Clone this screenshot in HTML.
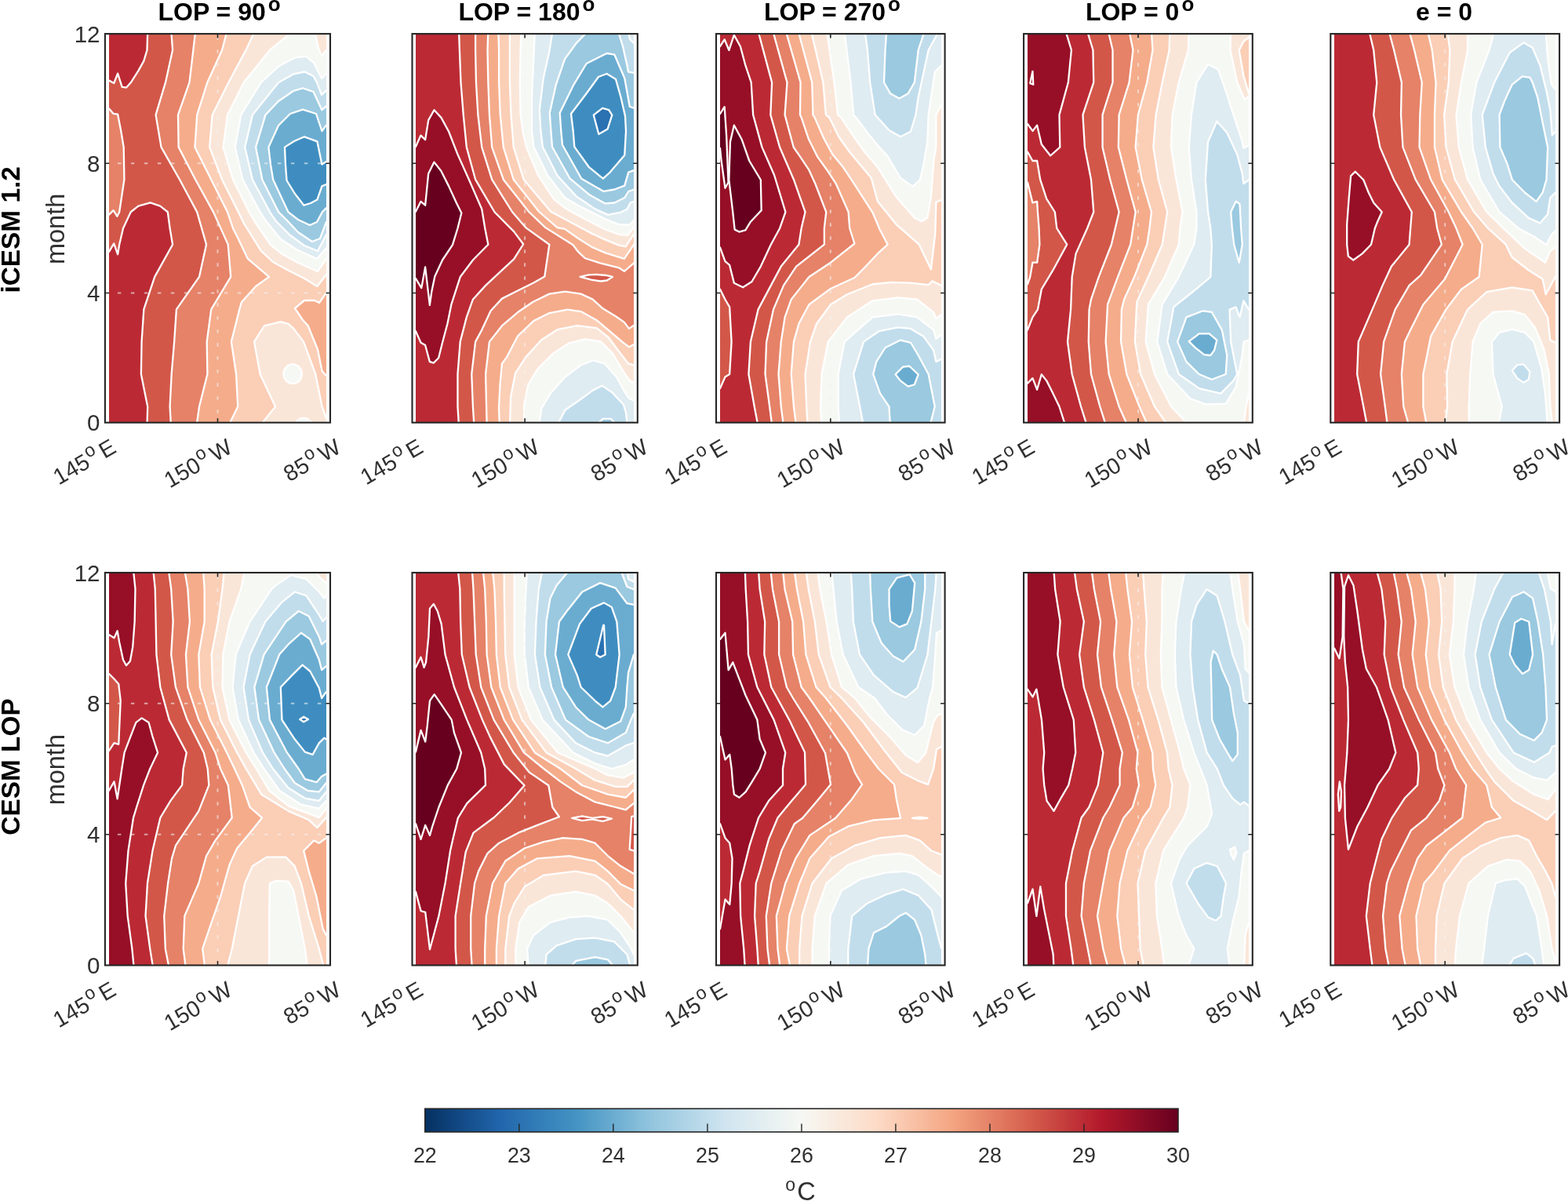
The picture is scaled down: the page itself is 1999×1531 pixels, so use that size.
<!DOCTYPE html>
<html lang="en"><head><meta charset="utf-8"><title>Equatorial Pacific SST seasonal cycle</title>
<style>
html,body{margin:0;padding:0;background:#fff}
body{width:1999px;height:1531px;overflow:hidden;position:relative}
svg{display:block}
text{font-family:"Liberation Sans",Arial,Helvetica,sans-serif}
.tk{font-size:29.5px;fill:#303030}
.sup{font-size:24px}
.xt{font-size:28.8px}
.cbt{font-size:26.8px}
.cbl{font-size:29px}
.cbl .sup{font-size:23px}
.xt .sup{font-size:23.5px}
.ttl{font-size:32px;font-weight:bold;fill:#000}
.rl{font-size:33.4px;font-weight:bold;fill:#000}
.ttl .sup{font-size:26px}
.yl{font-size:32.5px;fill:#303030}
.cl{stroke:#fff;stroke-width:2.3;stroke-linejoin:round;vector-effect:non-scaling-stroke}
</style></head><body>
<svg xmlns="http://www.w3.org/2000/svg" width="1999" height="1531" viewBox="0 0 1999 1531">
<defs>
<linearGradient id="cb" x1="0" x2="1" y1="0" y2="0"><stop offset="0%" stop-color="#053061"/><stop offset="10%" stop-color="#2166ac"/><stop offset="20%" stop-color="#4393c3"/><stop offset="30%" stop-color="#92c5de"/><stop offset="40%" stop-color="#d1e5f0"/><stop offset="50%" stop-color="#f6f8f3"/><stop offset="60%" stop-color="#fddbc7"/><stop offset="70%" stop-color="#f4a582"/><stop offset="80%" stop-color="#d6604d"/><stop offset="90%" stop-color="#b2182b"/><stop offset="100%" stop-color="#67001f"/></linearGradient>
</defs>
<rect width="1999" height="1531" fill="#fff"/>
<svg x="139" y="43" width="277" height="496" viewBox="0.036 -0.024 99.964 120.097" preserveAspectRatio="none" overflow="hidden"><rect x="-1" y="-1" width="102" height="122" fill="#d25749"/><path d="M28.64 -0.70L29.29 4.98L26.04 14.97L21.54 25.01L24.04 35L32.54 45L40.54 55.03L44.79 65.02L41.54 75.02L31.04 85.05L30.04 95.05L28.79 105.05L28.04 115.08L28.54 120.92L106 126L106 -6Z" fill="#e58268" class="cl"/><path d="M39.79 -0.70L38.79 4.98L37.04 14.97L31.79 25.01L32.04 35L39.79 45L48.04 55.03L54.79 65.02L56.04 75.02L47.04 85.05L45.04 95.05L45.29 105.05L41.54 115.08L40.29 120.92L106 126L106 -6Z" fill="#f5ac8b" class="cl"/><path d="M54.29 -0.70L52.04 4.98L45.29 14.97L40.54 25.01L39.54 35L47.04 45L54.54 55.03L57.04 60.02L59.24 62.94L63.89 69.45L73.65 75.02L67.55 77.94L61.04 82.77L60.04 85.05L56.29 95.05L58.54 105.05L59.29 115.08L55.04 120.92L106 126L106 -6Z" fill="#fbceb6" class="cl"/><path d="M101.44 79.88L100 79.88L96.75 83.03L94.59 82.30L89.90 82.30L85.56 84.72L89.17 88.35L91.56 90.05L96.03 97.43L98.05 104.09L100 105.54L101.44 105.54Z" fill="#f5ac8b" class="cl"/><path d="M67.05 -0.70L63.04 4.98L55.04 14.97L47.54 25.01L46.29 35L52.04 45L59.54 55.03L62.11 58.57L70.05 67.05L75.46 70.44L82.68 73.10L89.90 75.52L95.81 77.94L100 74.31L101.44 73.83L106 -6Z" fill="#fae6d8" class="cl"/><path d="M69.55 120.92L76.55 115.08L69.55 105.05L66.80 95.05L71.55 90.05L75.05 89.55L79.05 88.88L82.55 89.55L85.05 91.05L89.55 95.05L95.05 105.05L98.05 115.08L100 118.57L101.55 118.90L106 126Z" fill="#fae6d8" class="cl"/><path d="M84.55 -0.70L74.05 4.98L62.04 14.97L54.54 25.01L52.54 35L57.04 45L64.55 55.03L67.16 58.09L74.38 65.11L79.79 68.01L87.01 70.68L95.99 73.34L100 69.47L101.44 69.23L101.55 5.01L100 5.01L97.95 6.85L96.30 4.34L94.70 -0.70Z" fill="#f6f8f3" class="cl"/><path d="M88.81 104.99L88.38 106.30L87.22 107.36L85.49 107.94L83.62 107.94L81.88 107.36L80.73 106.30L80.30 104.99L80.73 103.68L81.88 102.62L83.62 102.03L85.49 102.03L87.22 102.62L88.38 103.68Z" fill="#f6f8f3" class="cl"/><path d="M93.14 120.31L92.78 121.04L91.77 121.65L90.33 121.96L88.74 121.96L87.30 121.65L86.29 121.04L85.93 120.31L86.29 119.59L87.30 118.98L88.74 118.67L90.33 118.67L91.77 118.98L92.78 119.59Z" fill="#f6f8f3" class="cl"/><path d="M101.55 12.32L100 12.32L97.85 13.77L94.25 8.93L90.65 6.99L87.05 7.19L85.05 7.52L78.05 10.04L70.05 14.97L60.79 25.01L58.04 35L61.54 45L69.55 55.03L72.57 58.09L79.07 63.41L86.29 66.56L95.67 69.47L100 66.08L101.44 65.84Z" fill="#dfecf1" class="cl"/><path d="M101.55 17.42L100 17.42L97.85 18.87L95.65 14.97L94.05 13.06L90.05 11.72L85.05 12.39L78.05 14.97L66.05 25.01L62.54 35L66.05 45L74.05 55.03L76.90 57.85L83.40 62.20L89.90 65.35L96.03 67.05L100 61.96L101.44 61.72Z" fill="#c1ddec" class="cl"/><path d="M101.44 22.25L100 22.35L97.98 23.51L94.05 17.89L89.17 16.76L84.84 17.65L77.99 20.80L72.03 25.01L67.55 35L70.55 45L78.05 55.03L81.60 57.36L87.01 61.23L93.50 64.14L97.11 63.17L100 58.09L101.44 57.85Z" fill="#9ac9e0" class="cl"/><path d="M101.44 28.06L100 28.23L97.98 30L95.31 24.67L89.17 23.37L83.40 24.67L77.99 28.31L73.44 34.99L74.38 40.41L75.53 45.01L79.07 50.10L82.53 55.04L87.01 57.36L92.42 59.06L95.67 58.09L98.20 54.94L100 53.73L101.44 53.49Z" fill="#6aacd0" class="cl"/><path d="M101.44 39.44L100 39.44L97.98 40.29L95.81 33.22L89.90 31.77L85.20 33.15L80.87 34.99L81.23 40.41L81.78 45.25L85.56 49.37L89.68 52.93L92.78 52.28L95.81 51.19L97.98 47.05L100 46.46L101.44 46.46Z" fill="#3f8dc0" class="cl"/><path d="M17.79 -0.70L17.54 5.01L16.04 8.36L13.54 11.38L10.04 15.07L8.04 16.58L6.04 16.42L4.04 12.22L2.29 15.24L0.04 14.40L-1.46 14.40L-6 -6Z" fill="#bb2a34" class="cl"/><path d="M-1.46 67.24L0.04 67.24L2.29 64.72L4.04 68.08L4.79 65.06L6.54 60.02L10.04 55L13.54 53.15L19.04 52.14L23.54 53.15L27.04 55L28.04 60.03L29.29 65.06L21.04 75.02L16.04 85.05L15.04 95.05L14.79 105.05L17.79 115.08L17.54 120.92L-6 126Z" fill="#bb2a34" class="cl"/><path d="M-1.46 23.13L0.04 23.13L2.04 24.64L4.04 24.80L5.54 30L6.79 35.03L7.04 45L4.79 55L3.79 56.34L2.04 54.49L0.04 55.83L-1.46 55.83Z" fill="#e58268" class="cl"/></svg>
<g transform="translate(133.9,43.1)">
<path d="M5.0 330.4H282.1" stroke-dashoffset="6" stroke="#f4f4f4" stroke-opacity=".6" stroke-width="2" stroke-dasharray="4.5 12.5" fill="none"/>
<path d="M5.0 165.2H282.1" stroke-dashoffset="6" stroke="#f4f4f4" stroke-opacity=".6" stroke-width="2" stroke-dasharray="4.5 12.5" fill="none"/>
<path d="M143.6 0V495.6" stroke-dashoffset="13.8" stroke="#f4f4f4" stroke-opacity=".6" stroke-width="2" stroke-dasharray="4.5 12.5" fill="none"/>
<rect x="0" y="0" width="287.1" height="495.6" fill="none" stroke="#262626" stroke-width="2.1"/>
<path d="M143.6 0v5.5M143.6 495.6v-5.5M0 330.4h5.5M287.1 330.4h-5.5M0 165.2h5.5M287.1 165.2h-5.5" stroke="#262626" stroke-width="1.6" fill="none"/>
</g>
<text class="tk xt" text-anchor="end" transform="translate(149.9,575.7) rotate(-30)">145<tspan class="sup" dx="1.5" dy="-11.5">o</tspan><tspan dx="4.5" dy="11.5">E</tspan></text>
<text class="tk xt" text-anchor="end" transform="translate(298.1,575.7) rotate(-30)">150<tspan class="sup" dx="1.5" dy="-11.5">o</tspan><tspan dx="4.5" dy="11.5">W</tspan></text>
<text class="tk xt" text-anchor="end" transform="translate(436.6,575.7) rotate(-30)">85<tspan class="sup" dx="1.5" dy="-11.5">o</tspan><tspan dx="4.5" dy="11.5">W</tspan></text>
<svg x="530" y="43" width="278" height="496" viewBox="-0.180 -0.024 100.252 120.097" preserveAspectRatio="none" overflow="hidden"><rect x="-1" y="-1" width="102" height="122" fill="#bb2a34"/><path d="M19.68 -0.81L19.97 5L20.56 15L21.73 25L23.19 35L27.27 45L36.04 55L44.93 61.03L49.28 64.93L44.93 69.55L39.49 72.96L31.95 77.67L26.11 81.99L23.19 87.48L20.27 95.05L19.10 105.05L19.10 115.05L19.68 121.21L106 126L106 -6Z" fill="#d25749" class="cl"/><path d="M27.27 -0.81L27.27 5L27.57 15L28.44 25L30.20 35L34.87 45L44.22 55L50.37 59.81L61.25 65.05L59.08 74.91L54 76.86L46.74 79.29L39.49 81.73L34.28 85.52L30.20 91.40L27.27 95.05L25.52 105.05L26.11 115.05L26.69 121.21L106 126L106 -6Z" fill="#e58268" class="cl"/><path d="M75.40 75.03L79.39 74.42L83.02 74.30L87.37 74.55L90.27 75.03L87.73 76.13L84.83 76.37L80.48 75.89Z" fill="#d25749" class="cl"/><path d="M33.12 -0.81L32.82 5L33.12 15L33.70 25L34.87 35L40.13 45L51.82 54.94L59.44 59.81L72.13 65.17L74.56 67.34L77.67 69.29L84.92 70.82L93.21 72.21L95.70 73.32L100.07 70.82L101.92 69.84L106 -6Z" fill="#f5ac8b" class="cl"/><path d="M37.79 -0.81L38.08 5L38.08 15L38.67 25L40.13 35L44.80 45L56.54 54.94L64.88 59.81L68.34 60.24L74.56 63.16L80.77 65.81L86.99 67.62L95.70 69.42L100.07 65.11L101.92 63.44L106 -6Z" fill="#fbceb6" class="cl"/><path d="M43.05 -0.81L43.05 5L43.05 15L43.63 25L44.80 35L49.47 45L61.98 54.94L68.34 57.18L74.56 59.40L80.77 61.63L86.99 63.58L93.21 65.25L96.32 65.67L100.07 61.91L101.92 60.24L106 -6Z" fill="#fae6d8" class="cl"/><path d="M48.30 -0.81L48.01 5L47.72 15L48.01 25L49.22 30.97L51.03 35.57L56.15 43.73L63.43 51.16L68.34 53.70L74.56 56.06L80.77 58.29L86.99 60.38L93.21 61.91L97.36 62.19L100.07 59.68L101.92 58.15L106 -6Z" fill="#f6f8f3" class="cl"/><path d="M54.63 -1.23L53.19 19.59L53.19 30L54.09 34.89L60.51 43.73L68.41 50.58L74.56 53L80.77 55.09L86.99 57.18L93.21 58.85L97.98 58.99L100.07 57.60L101.92 56.48L106 -6Z" fill="#dfecf1" class="cl"/><path d="M62.86 -1.23L61.13 5.79L58.49 13.70L56.73 23.46L57.30 30L58.20 34.89L64.91 43.73L73.67 50.19L82.40 54.12L88.28 55.88L94.12 55.08L97.04 54.12L98.49 52.15L100.07 51.79L101.88 51.55L101.88 2.88L100.07 2.88L98.27 1.67L97.33 -1.23Z" fill="#c1ddec" class="cl"/><path d="M79.52 -1.23L73.67 2.88L68.34 7.82L64.33 15.67L61.41 24.43L61.99 30L62.57 34.89L70.75 44.70L79.52 49.61L86.80 52.35L91.20 52.15L95.85 50.58L97.62 48.64L100.07 48.04L101.88 47.92L101.88 12.08L100.07 12.08L97.55 11.74L97.01 9.78L95.02 3.85L92.64 -1.23Z" fill="#9ac9e0" class="cl"/><path d="M101.88 22.91L100.07 22.91L98.20 22.49L95.85 13.70L91.20 6.44L87.67 6.03L78.33 9.18L72.48 15.67L66.07 24.43L66.64 30L67.26 34.31L76.02 44.70L86.22 48.64L91.20 48.04L95.85 46.85L97.62 42.74L100.07 42.15L101.88 42.11Z" fill="#6aacd0" class="cl"/><path d="M87.67 12.32L83.84 13.29L78.07 18.62L71.22 24.67L72.20 30L72.77 34.89L79.52 41.19L85.94 44.70L89.15 42.74L95.85 37.46L96.47 30L96.11 25.40L94.12 19.59L91.78 14.02Z" fill="#3f8dc0" class="cl"/><path d="M81.61 25.08L85.68 22.93L88.60 23.51L90.08 25.08L88.03 29.39L83.95 30.97Z" fill="#2a71b2" class="cl"/><path d="M32.53 121.21L31.95 105.05L33.70 95.05L39.49 90.09L46.74 85.95L53.63 82.78L61.25 80.27L68.51 79.54L75.76 80.27L81.20 81.97L85.56 84.65L92.09 87.33L95.71 89.04L97.89 90.99L100.07 90.01L102.24 89.04L106 126Z" fill="#f5ac8b" class="cl"/><path d="M38.41 121.53L38.05 115.47L38.59 108.21L39.49 101.78L41.66 99.83L46.74 93.26L54 88.63L61.25 86.19L69.60 85.10L75.76 85.71L83.02 88.39L90.27 92.53L94.62 94.96L97.89 96.67L100.07 95.94L102.24 95.21L106 126Z" fill="#fbceb6" class="cl"/><path d="M43.12 120.78L43.48 112.01L45.65 104.70L50.37 99.83L57.62 94.48L64.88 91.31L73.95 90.09L83.02 90.82L88.46 93.74L93.90 98.62L97.53 101.78L100.07 102.27L102.24 102.51L106 126Z" fill="#fae6d8" class="cl"/><path d="M49.64 120.78L49.64 114.45L51.46 108.36L55.81 103.49L63.07 98.62L70.32 95.45L77.58 94.23L84.83 94.96L90.27 98.62L95.71 104.70L98.25 107.14L100.07 107.63L102.24 107.87L106 126Z" fill="#f6f8f3" class="cl"/><path d="M56.54 120.78L57.62 115.66L61.98 110.79L68.51 105.92L75.76 102.27L81.20 100.81L86.64 101.78L92.09 105.92L96.08 110.79L97.89 112.50L100.07 113.23L102.24 113.47L106 126Z" fill="#dfecf1" class="cl"/><path d="M64.88 120.78L68.51 116.15L75.76 112.74L81.20 110.06L85.56 108.60L90.27 110.79L95.35 114.45L96.44 116.88L97.16 120.78Z" fill="#c1ddec" class="cl"/><path d="M82.65 120.78L85.92 118.83L89.55 118.83L92.09 120.78Z" fill="#9ac9e0" class="cl"/><path d="M-1.93 34.88L-0.18 34.88L2.16 31.35L4.20 32.73L5.66 26.65L8.29 23.51L11.50 25.86L15.01 30.18L19.10 37.24L24.35 45.08L30.20 54.10L31.66 60.02L33.12 65.04L26.11 69.83L20.27 75.05L16.18 83.56L14.42 89.44L12.09 95.32L10.33 100.03L8 101.60L6.25 101.21L4.20 96.11L2.16 95.32L-0.18 91.79L-1.93 91.79Z" fill="#960f26" class="cl"/><path d="M-1.93 54.89L-0.18 54.89L2.16 51.75L4.20 52.93L5.66 43.12L8.29 39.59L11.50 42.34L15.01 47.04L18.51 52.14L20.85 55.28L19.10 60.02L16.76 65.12L12.09 69.83L8.58 74.93L7.12 79.64L6.25 83.75L4.20 71.99L2.45 78.46L-0.18 75.52L-1.93 75.52Z" fill="#67001f" class="cl"/></svg>
<g transform="translate(525.5,43.1)">
<path d="M143.6 0V495.6" stroke-dashoffset="13.8" stroke="#f4f4f4" stroke-opacity=".6" stroke-width="2" stroke-dasharray="4.5 12.5" fill="none"/>
<rect x="0" y="0" width="287.3" height="495.6" fill="none" stroke="#262626" stroke-width="2.1"/>
<path d="M143.6 0v5.5M143.6 495.6v-5.5M0 330.4h5.5M287.3 330.4h-5.5M0 165.2h5.5M287.3 165.2h-5.5" stroke="#262626" stroke-width="1.6" fill="none"/>
</g>
<text class="tk xt" text-anchor="end" transform="translate(541.5,575.7) rotate(-30)">145<tspan class="sup" dx="1.5" dy="-11.5">o</tspan><tspan dx="4.5" dy="11.5">E</tspan></text>
<text class="tk xt" text-anchor="end" transform="translate(689.8,575.7) rotate(-30)">150<tspan class="sup" dx="1.5" dy="-11.5">o</tspan><tspan dx="4.5" dy="11.5">W</tspan></text>
<text class="tk xt" text-anchor="end" transform="translate(828.4,575.7) rotate(-30)">85<tspan class="sup" dx="1.5" dy="-11.5">o</tspan><tspan dx="4.5" dy="11.5">W</tspan></text>
<svg x="918" y="43" width="282" height="496" viewBox="0.000 -0.024 100.142 120.097" preserveAspectRatio="none" overflow="hidden"><rect x="-1" y="-1" width="102" height="122" fill="#bb2a34"/><path d="M-1.73 78.85L0 78.85L2.30 81.99L4.31 84.34L5.18 95.05L4.31 105.05L2.30 105.91L0 109.44L-1.73 109.44Z" fill="#d25749" class="cl"/><path d="M17.21 -0.88L23.47 15.01L22.85 25L27.02 35.02L33.36 45L38.54 55L36.81 60.02L35.66 65.04L27.61 71.79L23.01 77.67L17.26 85.05L13.81 95.05L12.94 105.05L15.53 115.05L17.26 121.21L106 126L106 -6Z" fill="#d25749" class="cl"/><path d="M23.89 -0.88L30.36 15.01L29.32 25L33.29 35.02L36.22 37.88L40.13 41.87L43.06 46.23L48.03 55L47.17 60.02L47.17 65.04L34.51 71.79L28.76 77.67L24.16 85.05L21 95.05L20.42 105.05L22.43 115.05L23.58 121.21L106 126L106 -6Z" fill="#e58268" class="cl"/><path d="M29.74 -0.88L36.42 15.01L36.21 25L36.81 25.88L40.13 32.55L44.04 37.88L48.92 42.54L52.44 46.23L58.10 55L58.67 60.02L60.87 64.75L50.05 70.61L40.27 75.05L32.21 81.99L29.34 87.48L27.61 95.05L26.46 105.05L27.61 115.05L28.76 121.21L106 126L106 -6Z" fill="#f5ac8b" class="cl"/><path d="M35.37 -0.88L41.64 15.01L42.05 25L42.87 25.88L46.97 32.28L50.88 37.21L55.76 41.21L60.65 46.23L69.21 55.35L72.14 60.19L75.89 65.03L71.30 67.88L65.04 72.43L60.86 75.28L50.05 78.65L40.27 83.56L35.66 89.44L33.36 95.05L32.21 105.05L33.36 115.05L34.51 121.21L106 126L106 -6Z" fill="#fbceb6" class="cl"/><path d="M41.22 -0.88L46.65 15.01L47.90 25L49.51 25.88L53.81 31.88L58.69 36.54L63.58 40.54L68.46 44.54L71.30 51.65L79.65 58.77L90.09 65.03L95.52 72.72L97.40 61.62L97.81 51.94L99.98 51.37L101.78 51.08L106 -6Z" fill="#fae6d8" class="cl"/><path d="M48.32 -0.88L51.66 15.01L53.33 25L54.79 25.88L60.65 31.88L65.53 36.54L71.40 41.21L79.65 50.23L88 56.78L91.34 57.91L93.85 56.78L95.52 50.23L96.77 38.84L97.79 35L97.79 25L100.15 21.94L102.39 21.55L106 -6Z" fill="#f6f8f3" class="cl"/><path d="M56.25 -0.88L59.17 15.01L60.42 25L61.62 25.88L67.49 31.21L72.37 35.21L75.48 37.42L81.74 44.53L87.17 47.10L90.51 45.10L92.18 40.26L93.85 33.15L94.34 25L97.21 11.74L100.15 9.78L102.39 9.59L106 -6Z" fill="#dfecf1" class="cl"/><path d="M65.58 -0.81L66.73 5L67.88 15L70.18 25L76.51 29.78L81.68 31.75L86.28 30.18L88.59 25L89.74 19.59L94.34 5L97.79 0.76L98.94 -0.81Z" fill="#c1ddec" class="cl"/><path d="M75.36 -0.81L74.78 5L74.21 15L77.08 18.41L81.11 19.98L85.13 18.41L88.01 15L89.74 5L92.61 -0.81Z" fill="#9ac9e0" class="cl"/><path d="M39.69 121.21L39.12 115.05L38.54 105.05L40.84 95.05L43.72 89.44L50.05 83.56L57.52 80.42L69.03 77.28L77.66 76.69L86.28 76.89L94.34 77.48L96.06 76.30L100.15 77.67L102.97 77.67L106 126Z" fill="#fae6d8" class="cl"/><path d="M46.02 121.21L45.44 115.05L46.02 105.05L48.89 95.05L57.52 87.48L69.03 82.38L80.53 81.40L89.16 81.99L96.64 85.91L97.79 87.87L100.15 86.69L102.97 86.69L106 126Z" fill="#f6f8f3" class="cl"/><path d="M54.07 121.21L53.50 115.05L53.50 105.05L56.37 95.05L69.03 87.48L80.53 86.50L89.16 87.48L96.64 91.40L97.79 94.15L100.15 92.97L102.97 92.97L106 126Z" fill="#dfecf1" class="cl"/><path d="M65 121.21L63.28 115.05L60.40 105.05L65 95.05L71.90 91.79L80.53 90.62L86.28 91.01L92.04 93.36L96.64 97.68L97.79 101.21L100.15 100.42L102.97 100.42L106 126Z" fill="#c1ddec" class="cl"/><path d="M77.08 121.21L76.51 115.05L72.48 111.01L69.32 105.05L70.75 101.21L74.78 96.89L81.68 94.54L86.28 95.32L89.74 99.25L94.34 105.05L97.21 115.05L94.91 121.21Z" fill="#9ac9e0" class="cl"/><path d="M79.38 105.13L82.83 102.78L85.71 102.58L89.74 105.13L88.01 108.27L85.13 108.86L81.68 107.09Z" fill="#6aacd0" class="cl"/><path d="M-1.73 3.90L0 3.90L2.01 1.74L4.03 5.07L6.33 0.37L9.20 3.90L11.50 9.78L14.09 15L14.96 25L18.98 35L24.50 43.55L29.62 55L27.04 60.02L23.01 65.04L18.41 71.79L14.38 76.50L10.35 78.26L6.33 76.89L4.31 71.40L2.30 70.22L0 65.91L-1.73 65.91Z" fill="#960f26" class="cl"/><path d="M6.33 28.22L9.78 32.53L13.23 39.20L18.41 45.08L18.70 54.49L13.81 58.02L11.50 60.61L8.63 61.12L6.62 60.42L5.75 54.89L4.03 45.08L4.60 33.31Z" fill="#67001f" class="cl"/><path d="M-1.73 24.69L0 24.69L2.01 22.53L2.88 31.35L3.74 45.87L2.30 47.63L0.58 39.20L0 35.28L-1.73 35.28Z" fill="#67001f" class="cl"/></svg>
<g transform="translate(913.0,43.1)">
<path d="M145.8 0V495.6" stroke-dashoffset="13.8" stroke="#f4f4f4" stroke-opacity=".6" stroke-width="2" stroke-dasharray="4.5 12.5" fill="none"/>
<rect x="0" y="0" width="291.6" height="495.6" fill="none" stroke="#262626" stroke-width="2.1"/>
<path d="M145.8 0v5.5M145.8 495.6v-5.5M0 330.4h5.5M291.6 330.4h-5.5M0 165.2h5.5M291.6 165.2h-5.5" stroke="#262626" stroke-width="1.6" fill="none"/>
</g>
<text class="tk xt" text-anchor="end" transform="translate(929.0,575.7) rotate(-30)">145<tspan class="sup" dx="1.5" dy="-11.5">o</tspan><tspan dx="4.5" dy="11.5">E</tspan></text>
<text class="tk xt" text-anchor="end" transform="translate(1079.4,575.7) rotate(-30)">150<tspan class="sup" dx="1.5" dy="-11.5">o</tspan><tspan dx="4.5" dy="11.5">W</tspan></text>
<text class="tk xt" text-anchor="end" transform="translate(1220.2,575.7) rotate(-30)">85<tspan class="sup" dx="1.5" dy="-11.5">o</tspan><tspan dx="4.5" dy="11.5">W</tspan></text>
<svg x="1310" y="43" width="282" height="496" viewBox="-0.035 -0.024 100.106 120.097" preserveAspectRatio="none" overflow="hidden"><rect x="-1" y="-1" width="102" height="122" fill="#bb2a34"/><path d="M-1.76 36.45L-0.04 36.45L2.26 39.20L4.28 39.20L5.71 45L8.59 50.96L12.33 55L13.19 60.02L17.79 65.04L11.47 72.97L6.29 78.85L4.56 85.13L2.26 87.48L-0.04 91.40L-1.76 91.40Z" fill="#d25749" class="cl"/><path d="M-1.76 45.87L-0.04 45.87L2.26 52.14L4.28 51.75L4.56 55L5.14 60.02L5.43 65.04L4.28 70.61L2.26 70.61L1.11 75.05L-0.04 77.28L-1.76 77.28Z" fill="#e58268" class="cl"/><path d="M26.99 -0.81L29.58 5L29.87 15L24.98 25L25.84 35L28.72 45L29.87 55L26.99 60.02L21.82 67.87L20.09 75.05L19.52 85.05L18.08 95.05L20.09 105.05L24.12 115.05L26.99 121.21L106 126L106 -6Z" fill="#d25749" class="cl"/><path d="M36.48 -0.81L38.49 5L38.49 15L33.89 25L33.89 35L37.34 45L41.37 55L39.64 60.02L37.92 65.04L32.17 75.05L28.72 81.99L27.85 85.05L27.57 95.05L28.72 105.05L32.74 115.05L35.62 121.21L106 126L106 -6Z" fill="#e58268" class="cl"/><path d="M45.97 -0.81L47.69 5L45.97 15L41.37 25L41.08 35L44.82 45L48.84 55L47.69 60.02L46.54 65.04L40.79 75.05L36.19 83.56L35.33 95.05L36.77 105.05L41.37 115.05L45.39 121.21L106 126L106 -6Z" fill="#f5ac8b" class="cl"/><path d="M56.03 -0.81L56.60 5L54.02 15L49.99 25L48.84 35L51.72 45L56.03 55L55.17 60.02L54.02 65.04L48.27 75.05L43.67 81.99L42.52 85.05L42.23 95.05L44.82 105.05L50.57 115.05L54.59 121.21L106 126L106 -6Z" fill="#fbceb6" class="cl"/><path d="M64.37 -0.81L64.08 5L60.92 15L58.04 25L56.89 35L59.19 45L63.22 55L62.07 60.02L60.92 65.04L54.59 75.05L49.42 82.77L48.55 95.05L51.14 105.05L57.47 115.05L63.79 121.21L106 126L106 -6Z" fill="#fae6d8" class="cl"/><path d="M72.99 -0.81L72.71 5L68.39 15L65.52 25L64.94 35L67.24 45L70.12 55L68.97 60.02L68.39 65.04L62.07 75.05L54.59 83.56L53.44 95.05L57.47 105.05L64.94 115.05L73.57 121.21L106 126L106 -6Z" fill="#f6f8f3" class="cl"/><path d="M91.97 -0.81L91.68 4.68L94.84 15L98.29 20.37L100.08 19.19L102.89 18.80L106 -6Z" fill="#fae6d8" class="cl"/><path d="M102.89 1.15L100.08 1.15L97.72 2.33L95.71 5.07L97.72 12.92L100.08 18.41L102.89 18.41Z" fill="#fbceb6" class="cl"/><path d="M97.72 121.21L98.87 115.05L100.08 111.01L102.89 110.62L106 126Z" fill="#fae6d8" class="cl"/><path d="M81.62 9.39L76.44 15L74.14 25L72.99 35L74.14 45L76.44 55L76.44 60.02L75.29 65.04L68.39 75.05L60.92 83.56L58.62 95.05L63.22 105.05L73.57 112.58L80.47 114.35L89.67 114.15L94.27 109.05L97.14 99.25L97.72 95.05L100.08 94.54L102.89 94.54L102.89 34.49L100.08 34.49L97.72 35.28L97.14 33.31L93.12 25L89.67 17.63L86.22 10.96Z" fill="#dfecf1" class="cl"/><path d="M85.64 27.04L81.62 33.31L80.47 45L81.62 55L82.77 60.02L83.34 65.04L82.77 75.05L74.72 79.64L66.09 84.34L63.22 95.05L68.39 105.05L77.59 109.44L87.37 111.01L93.12 107.09L94.84 105.05L91.97 95.05L91.39 85.13L94.27 84.34L95.99 87.48L97.72 82.38L100.08 85.13L102.89 85.13L102.89 45.08L100.08 45.08L97.72 46.26L97.14 43.12L94.84 37.24L90.24 30.57Z" fill="#c1ddec" class="cl"/><path d="M79.32 85.52L71.84 87.48L67.82 95.05L71.84 101.21L77.59 105.05L83.34 106.70L89.67 105.05L90.24 99.25L87.94 91.40L83.34 85.91Z" fill="#9ac9e0" class="cl"/><path d="M94.27 51.75L91.97 55L92.54 60.02L93.41 65.04L95.71 70.61L97.14 65.04L96.57 60.02L95.99 52.53Z" fill="#9ac9e0" class="cl"/><path d="M72.99 94.93L77.59 92.58L82.19 92.58L85.64 94.54L84.49 97.68L82.77 99.25L79.89 99.05L75.87 96.89Z" fill="#6aacd0" class="cl"/><path d="M17.22 -0.81L19.80 5L18.37 15L14.34 25L14.63 35L10.32 37.63L6.29 34.10L4.28 28.22L2.26 29.98L-0.04 27.82L-1.76 27.82L-6 -6Z" fill="#960f26" class="cl"/><path d="M-1.76 107.87L-0.04 107.87L2.26 106.31L4.28 109.84L6.29 105.13L8.59 107.09L11.47 111.01L14.34 115.05L17.22 121.21L-6 126Z" fill="#960f26" class="cl"/><path d="M2.26 11.55L1.11 15.27L2.55 15.66Z" fill="#960f26" class="cl"/></svg>
<g transform="translate(1305.1,43.1)">
<path d="M145.9 0V495.6" stroke-dashoffset="13.8" stroke="#f4f4f4" stroke-opacity=".6" stroke-width="2" stroke-dasharray="4.5 12.5" fill="none"/>
<rect x="0" y="0" width="291.7" height="495.6" fill="none" stroke="#262626" stroke-width="2.1"/>
<path d="M145.9 0v5.5M145.9 495.6v-5.5M0 330.4h5.5M291.7 330.4h-5.5M0 165.2h5.5M291.7 165.2h-5.5" stroke="#262626" stroke-width="1.6" fill="none"/>
</g>
<text class="tk xt" text-anchor="end" transform="translate(1321.1,575.7) rotate(-30)">145<tspan class="sup" dx="1.5" dy="-11.5">o</tspan><tspan dx="4.5" dy="11.5">E</tspan></text>
<text class="tk xt" text-anchor="end" transform="translate(1471.5,575.7) rotate(-30)">150<tspan class="sup" dx="1.5" dy="-11.5">o</tspan><tspan dx="4.5" dy="11.5">W</tspan></text>
<text class="tk xt" text-anchor="end" transform="translate(1612.4,575.7) rotate(-30)">85<tspan class="sup" dx="1.5" dy="-11.5">o</tspan><tspan dx="4.5" dy="11.5">W</tspan></text>
<svg x="1701" y="43" width="282" height="496" viewBox="-0.106 -0.024 100.071 120.097" preserveAspectRatio="none" overflow="hidden"><rect x="-1" y="-1" width="102" height="122" fill="#bb2a34"/><path d="M15.70 -0.81L17.71 5L19.15 15L17.71 25L20.59 35L26.91 45L34.96 55L34.38 60.02L33.81 65.04L25.76 71.79L21.74 77.67L17.14 85.05L10.82 95.05L10.24 105.05L13.11 115.05L14.84 121.21L106 126L106 -6Z" fill="#d25749" class="cl"/><path d="M24.61 -0.81L26.91 5L30.36 15L30.07 25L30.93 35L36.68 45L45.30 55L46.45 60.02L48.47 65.04L38.98 74.54L33.81 77.67L27.49 85.05L22.31 95.05L20.87 105.05L22.89 115.05L24.04 121.21L106 126L106 -6Z" fill="#e58268" class="cl"/><path d="M33.81 -0.81L36.11 5L39.56 15L38.69 25L38.41 35L43.58 45L51.63 55L55.08 60.02L57.95 65.04L49.90 75.71L40.13 83.56L34.38 91.40L31.80 95.05L30.36 105.05L31.22 115.05L33.81 121.21L106 126L106 -6Z" fill="#f5ac8b" class="cl"/><path d="M42.14 -0.81L44.16 5L45.88 15L45.30 25L45.30 35L48.75 45L57.38 55L62.55 60.02L66.86 65.04L65.42 75.05L57.38 78.85L50.48 85.05L43.58 93.36L41.86 99.25L40.13 105.05L40.13 115.05L41.86 121.21L106 126L106 -6Z" fill="#fbceb6" class="cl"/><path d="M51.05 -0.81L52.20 5L51.63 15L49.62 25L50.48 35L54.50 45L63.12 55L69.45 60.02L77.49 65.04L80.37 69.05L87.84 72.97L94.16 75.71L95.60 80.42L99.97 74.93L102.79 74.14L106 -6Z" fill="#fae6d8" class="cl"/><path d="M60.25 -0.81L60.25 5L57.38 15L55.08 25L56.23 35L60.25 45L68.87 55L76.35 60.02L86.12 66.30L95.31 70.61L97.61 67.08L99.97 65.91L102.79 65.52L106 -6Z" fill="#f6f8f3" class="cl"/><path d="M72.32 -0.81L70.02 5L64.27 15L61.69 25L62.55 35L66 45L74.62 55L83.24 60.02L90.72 62.77L95.89 65.12L98.19 61.99L99.97 60.81L102.79 60.42L102.79 17.23L99.97 17.23L98.19 15.66L96.46 7.82L95.60 -0.81Z" fill="#dfecf1" class="cl"/><path d="M85.54 2.72L79.22 5.86L72.32 15L66.86 25L68.30 35L71.75 43.12L74.62 47.04L80.37 52.14L87.84 56.85L93.02 58.42L96.46 55.67L97.61 50.57L99.97 49L102.79 49L102.79 30.18L99.97 30.18L98.48 31.35L97.61 23.51L95.89 17.63L93.02 9.78L89.57 4.29Z" fill="#c1ddec" class="cl"/><path d="M84.97 13.12L80.37 15.66L76.92 20.76L74.62 25L74.91 35L78.07 39.98L80.37 45L86.12 49L91.29 51.75L94.16 49L95.89 45L96.46 35L94.16 27.43L91.87 19.59L89.57 15L88.42 13.51Z" fill="#9ac9e0" class="cl"/><path d="M49.90 121.21L51.05 115.05L50.77 105.05L53.35 95.05L60.25 85.05L68.87 79.64L80.37 78.26L89.57 79.24L92.44 82.77L96.46 87.48L97.61 94.54L99.97 95.32L102.79 95.32L106 126Z" fill="#fae6d8" class="cl"/><path d="M60.82 121.21L60.82 115.05L61.40 105.05L62.55 95.05L66 89.44L71.75 85.91L80.37 85.52L86.12 86.69L90.72 90.62L94.74 97.28L97.04 105.05L97.61 115.05L98.76 121.21Z" fill="#f6f8f3" class="cl"/><path d="M74.05 121.21L75.77 115.05L71.75 105.05L71.17 95.05L74.62 92.19L80.37 91.21L86.12 92.19L90.14 95.05L93.59 103.17L95.31 111.01L96.46 121.21Z" fill="#dfecf1" class="cl"/><path d="M80.37 103.95L82.67 102.19L85.54 101.99L88.42 104.34L87.84 106.70L85.54 107.68L82.67 106.31Z" fill="#c1ddec" class="cl"/><path d="M9.38 42.53L7.37 43.90L6.50 50.96L5.64 58.81L5.64 65.04L6.22 68.65L8.52 69.83L12.54 67.87L16.56 65.04L18.29 60.02L19.44 58.02L21.45 55L17.71 52.14L15.41 49L13.11 45.08Z" fill="#960f26" class="cl"/></svg>
<g transform="translate(1696.3,43.1)">
<path d="M145.9 0V495.6" stroke-dashoffset="13.8" stroke="#f4f4f4" stroke-opacity=".6" stroke-width="2" stroke-dasharray="4.5 12.5" fill="none"/>
<rect x="0" y="0" width="291.8" height="495.6" fill="none" stroke="#262626" stroke-width="2.1"/>
<path d="M145.9 0v5.5M145.9 495.6v-5.5M0 330.4h5.5M291.8 330.4h-5.5M0 165.2h5.5M291.8 165.2h-5.5" stroke="#262626" stroke-width="1.6" fill="none"/>
</g>
<text class="tk xt" text-anchor="end" transform="translate(1712.3,575.7) rotate(-30)">145<tspan class="sup" dx="1.5" dy="-11.5">o</tspan><tspan dx="4.5" dy="11.5">E</tspan></text>
<text class="tk xt" text-anchor="end" transform="translate(1862.8,575.7) rotate(-30)">150<tspan class="sup" dx="1.5" dy="-11.5">o</tspan><tspan dx="4.5" dy="11.5">W</tspan></text>
<text class="tk xt" text-anchor="end" transform="translate(2003.7,575.7) rotate(-30)">85<tspan class="sup" dx="1.5" dy="-11.5">o</tspan><tspan dx="4.5" dy="11.5">W</tspan></text>
<svg x="139" y="730" width="277" height="500" viewBox="0.036 0.000 99.964 119.880" preserveAspectRatio="none" overflow="hidden"><rect x="-1" y="-1" width="102" height="122" fill="#bb2a34"/><path d="M-1.73 30.93L0.04 30.93L2.39 32.50L4.46 34.06L5.34 39.15L4.46 52.46L2.39 52.07L0.04 54.42L-1.73 54.42Z" fill="#d25749" class="cl"/><path d="M20.37 -0.78L21.25 5.01L21.55 14.99L21.84 25.02L23.61 35L27.73 44.98L35.69 55.01L34.21 59.94L33.63 64.95L28.32 69.73L23.61 74.93L20.07 84.96L17.71 94.94L16.83 104.92L18.89 114.95L20.37 121.02L106 126L106 -6Z" fill="#d25749" class="cl"/><path d="M27.44 -0.78L28.62 5.01L29.50 14.99L28.62 25.02L30.68 35L35.98 44.98L43.64 55.01L45.41 59.94L46 64.95L41.29 72.86L35.39 78.73L30.68 83.43L28.91 87.35L27.14 94.94L25.38 104.92L25.96 114.95L27.73 121.02L106 126L106 -6Z" fill="#e58268" class="cl"/><path d="M34.80 -0.78L36.28 5.01L37.16 14.99L35.39 25.02L36.28 35L41.29 44.98L48.95 55.01L51.30 59.94L54.84 64.95L56.61 74.93L48.95 81.86L44.82 86.56L41.29 94.94L34.80 104.92L34.21 114.95L35.39 121.02L106 126L106 -6Z" fill="#f5ac8b" class="cl"/><path d="M43.35 -0.78L43.94 5.01L43.94 14.99L41.29 25.02L41.88 35L46.59 44.98L54.25 55.01L57.79 59.94L61.32 64.95L64.86 71.69L70.46 74.93L64.86 79.52L58.96 84.21L55.43 89.30L51.30 99.09L47.18 106.92L43.05 114.95L44.23 121.02L106 126L106 -6Z" fill="#fbceb6" class="cl"/><path d="M105.52 81.08L99.98 81.08L96.68 82.65L94.32 81.86L89.61 85L91.97 91.26L95.50 99.09L98.45 108.88L99.98 110.84L105.52 110.84Z" fill="#f5ac8b" class="cl"/><path d="M53.07 -0.78L52.19 5.01L50.13 14.99L47.18 25.02L47.77 35L51.30 44.98L58.96 55.01L63.09 59.94L70.16 67.77L82.54 72.86L91.97 75.60L95.80 77.95L99.98 74.82L105.52 74.43L106 -6Z" fill="#fae6d8" class="cl"/><path d="M54.25 121.02L56.61 114.95L58.96 106.92L62.50 94.94L66.04 89.69L72.52 86.95L81.36 86.95L85.48 89.69L88.43 94.94L91.97 104.92L96.68 114.95L99.04 121.02Z" fill="#fae6d8" class="cl"/><path d="M62.50 -0.78L60.73 5.01L55.43 14.99L52.48 25.02L52.19 35L55.43 44.98L63.09 55.01L67.80 59.94L73.70 66.60L82.54 71.29L91.97 73.64L96.68 74.82L99.98 72.08L105.52 71.69L105.52 3.13L99.98 3.13L97.27 1.57L94.32 -0.78Z" fill="#f6f8f3" class="cl"/><path d="M73.70 121.02L73.70 114.95L73.70 104.92L73.99 94.94L76.64 94.20L82.54 94.39L84.89 97.13L87.25 104.92L90.20 114.95L91.38 121.02Z" fill="#f6f8f3" class="cl"/><path d="M105.52 7.05L99.98 7.05L99.04 7.83L96.68 5.87L90.79 1.96L83.72 0.78L76.64 3.92L74.88 5.01L64.86 14.99L58.38 25.02L56.90 35L59.55 44.98L66.63 55.01L71.34 59.94L78.41 66.60L88.43 70.90L96.68 72.08L99.98 69.73L105.52 69.34Z" fill="#dfecf1" class="cl"/><path d="M105.52 13.70L99.98 13.70L98.45 14.88L96.68 12.92L90.79 7.05L85.48 5.87L79.59 9L71.93 14.99L64.86 25.02L61.91 35L64.27 44.98L70.75 55.01L75.47 59.94L82.54 65.81L90.20 68.94L96.68 69.73L99.98 66.99L105.52 66.60Z" fill="#c1ddec" class="cl"/><path d="M105.52 20.75L99.98 20.75L97.86 21.92L96.68 19.58L91.97 13.31L87.25 11.75L81.36 14.99L71.34 25.02L66.92 35L68.98 44.98L76.05 55.01L80.77 59.94L85.48 64.25L91.38 66.60L96.68 66.99L99.98 64.25L105.52 63.86Z" fill="#9ac9e0" class="cl"/><path d="M105.52 28.58L99.98 28.58L97.86 29.75L96.68 26.62L92.55 20.36L88.43 18.40L82.54 21.92L78.41 25.02L72.52 35L73.99 44.98L81.95 55.01L87.25 59.94L90.20 63.07L95.50 64.05L97.86 62.29L99.98 61.51L105.52 61.11Z" fill="#6aacd0" class="cl"/><path d="M105.52 36.41L99.98 36.41L97.86 38.37L96.68 35.24L92.55 30.15L89.02 28.19L84.30 31.32L79 35L79.59 44.98L85.48 50.90L90.20 54.81L93.73 55.59L96.68 52.07L99.04 50.50L99.98 50.90L105.52 50.90Z" fill="#3f8dc0" class="cl"/><path d="M87.84 44.83L89.61 44.04L91.67 44.83L89.61 45.61Z" fill="#2a71b2" class="cl"/><path d="M11.23 -0.78L12.12 5.01L11.82 14.99L10.94 22.71L9.76 27.01L7.99 28.38L6.52 26.62L4.75 21.14L3.87 17.81L2.39 19.97L0.04 18.99L-1.73 18.99L-6 -6Z" fill="#960f26" class="cl"/><path d="M15.06 44.44L12.41 45.81L9.46 50.90L7.11 55.01L5.93 59.94L3.87 69.14L2.39 63.86L0.04 66.60L-1.73 66.60L-6 126L11.53 121.02L10.64 114.95L8.58 104.92L7.70 94.94L8.88 84.96L11.23 74.93L12.71 71.69L15.95 64.95L18.89 59.94L22.43 55.01L20.07 50.11L18.30 45.81Z" fill="#960f26" class="cl"/></svg>
<g transform="translate(133.9,730.0)">
<path d="M5.0 333.7H282.1" stroke-dashoffset="6" stroke="#f4f4f4" stroke-opacity=".6" stroke-width="2" stroke-dasharray="4.5 12.5" fill="none"/>
<path d="M5.0 166.8H282.1" stroke-dashoffset="6" stroke="#f4f4f4" stroke-opacity=".6" stroke-width="2" stroke-dasharray="4.5 12.5" fill="none"/>
<path d="M143.6 0V500.5" stroke-dashoffset="13.8" stroke="#f4f4f4" stroke-opacity=".6" stroke-width="2" stroke-dasharray="4.5 12.5" fill="none"/>
<rect x="0" y="0" width="287.1" height="500.5" fill="none" stroke="#262626" stroke-width="2.1"/>
<path d="M143.6 0v5.5M143.6 500.5v-5.5M0 333.7h5.5M287.1 333.7h-5.5M0 166.8h5.5M287.1 166.8h-5.5" stroke="#262626" stroke-width="1.6" fill="none"/>
</g>
<text class="tk xt" text-anchor="end" transform="translate(149.9,1267.5) rotate(-30)">145<tspan class="sup" dx="1.5" dy="-11.5">o</tspan><tspan dx="4.5" dy="11.5">E</tspan></text>
<text class="tk xt" text-anchor="end" transform="translate(298.1,1267.5) rotate(-30)">150<tspan class="sup" dx="1.5" dy="-11.5">o</tspan><tspan dx="4.5" dy="11.5">W</tspan></text>
<text class="tk xt" text-anchor="end" transform="translate(436.6,1267.5) rotate(-30)">85<tspan class="sup" dx="1.5" dy="-11.5">o</tspan><tspan dx="4.5" dy="11.5">W</tspan></text>
<svg x="530" y="730" width="278" height="500" viewBox="-0.180 0.000 100.252 119.880" preserveAspectRatio="none" overflow="hidden"><rect x="-1" y="-1" width="102" height="122" fill="#bb2a34"/><path d="M19.25 -0.78L20.14 5.01L20.43 14.99L21.02 25.02L24.55 35L30.44 44.98L34.04 50.26L40.48 58.59L49.79 65.02L42.99 70.26L35.83 74.81L26.32 79.52L22.79 85.39L20.43 94.94L18.07 104.92L18.07 114.95L18.66 121.02L106 126L106 -6Z" fill="#d25749" class="cl"/><path d="M25.73 -0.78L26.32 5.01L26.91 14.99L27.50 25.02L29.85 35L35.74 44.98L44.78 55.02L51.94 60.98L60.89 65.02L62.68 71.69L65.77 74.62L55.76 77.17L46.93 79.52L38.10 82.65L32.80 85.78L28.67 91.26L26.91 94.94L25.14 104.92L25.14 114.95L25.73 121.02L106 126L106 -6Z" fill="#e58268" class="cl"/><path d="M71.66 75.01L76.37 74.43L81.08 75.01L85.79 74.62L89.92 75.21L85.79 75.99L81.08 75.40L76.37 75.80Z" fill="#d25749" class="cl"/><path d="M105.23 74.43L100.04 74.43L99.04 74.62L98.16 84.61L100.04 85L105.23 85Z" fill="#d25749" class="cl"/><path d="M30.74 -0.78L31.62 5.01L32.21 14.99L32.50 25.02L34.56 35L40.45 44.98L49.58 55.01L58.71 59.94L66.36 63.86L73.43 66.99L82.26 70.12L91.68 71.69L96.39 72.47L100.04 70.51L105.23 69.73L106 -6Z" fill="#f5ac8b" class="cl"/><path d="M35.15 -0.78L36.03 5.01L36.62 14.99L36.92 25.02L38.68 35L44.57 44.98L54.58 55.01L66.36 59.94L76.37 65.03L88.15 67.77L96.39 68.75L100.04 66.40L105.23 65.81L106 -6Z" fill="#fbceb6" class="cl"/><path d="M40.45 -0.78L40.45 5.01L40.75 14.99L41.04 25.02L42.81 35L48.70 44.98L59.88 55.01L73.43 59.94L82.26 63.46L91.68 65.42L96.98 65.42L100.04 63.46L105.23 63.07L106 -6Z" fill="#fae6d8" class="cl"/><path d="M45.16 -0.78L45.16 5.01L45.16 14.99L45.16 25.02L46.93 35L52.82 44.98L65.18 55.01L82.26 59.94L88.15 61.90L95.22 62.68L100.04 61.11L105.23 60.72L106 -6Z" fill="#f6f8f3" class="cl"/><path d="M51.05 -0.78L50.46 5.01L49.87 14.99L49.87 25.02L51.64 35L58.12 44.98L72.25 55.01L82.26 58.33L89.92 59.94L96.39 58.73L100.04 57.16L105.23 56.77L106 -6Z" fill="#dfecf1" class="cl"/><path d="M58.12 -0.78L56.35 5.01L55.17 14.99L54.58 25.02L56.94 35L63.42 44.98L73.43 52.07L82.26 55.01L88.15 55.99L96.39 52.85L100.04 52.07L105.23 51.68L106 -6Z" fill="#c1ddec" class="cl"/><path d="M96.98 -0.78L97.57 1.96L100.04 2.74L105.23 2.74L106 -6Z" fill="#dfecf1" class="cl"/><path d="M70.48 -0.78L64.59 3.92L61.65 7.83L59.88 14.99L59.29 25.02L62.24 35L68.72 44.98L79.32 50.11L88.15 52.07L96.39 48.94L98.75 44.98L100.04 43.07L105.23 42.67L105.23 5.09L100.04 5.09L96.98 4.31L94.04 -0.78Z" fill="#9ac9e0" class="cl"/><path d="M84.62 3.13L76.37 5.87L69.31 11.75L65.77 14.99L64.01 25.02L67.54 35L73.43 41.11L79.32 44.98L86.97 47.76L94.04 45.42L96.39 41.11L96.98 35L97.57 30.54L100.04 25.06L105.23 24.67L105.23 9.79L100.04 9.79L96.98 9.40L91.68 4.70Z" fill="#6aacd0" class="cl"/><path d="M86.38 9.20L80.49 10.96L75.19 15.66L69.89 25.02L74.02 31.32L75.78 35L82.26 39.15L85.79 41.11L89.33 39.15L91.68 35L93.45 25.02L92.27 14.99L89.92 10.57Z" fill="#3f8dc0" class="cl"/><path d="M86.09 16.05L82.85 25.06L84.62 25.84L86.97 25.06L86.38 16.05Z" fill="#2a71b2" class="cl"/><path d="M31.62 121.02L31.62 114.95L32.21 104.92L35.15 94.94L41.04 88.13L49.87 84.21L58.71 82.26L67.54 81.08L76.37 81.47L82.26 82.65L88.15 86.56L94.04 89.69L100.04 92.04L105.23 92.44L106 126Z" fill="#f5ac8b" class="cl"/><path d="M36.92 121.02L36.92 114.95L38.10 104.92L41.04 94.94L46.93 90.48L55.76 87.35L70.48 86.56L82.26 88.13L88.15 91.26L94.04 95.18L100.04 97.13L105.23 97.52L106 126Z" fill="#fbceb6" class="cl"/><path d="M41.04 121.02L41.04 114.95L42.81 104.92L45.16 101.05L49.87 95.96L58.71 92.44L73.43 91.26L82.26 92.44L88.15 95.18L94.04 99.87L100.04 103.01L105.23 103.40L106 126Z" fill="#fae6d8" class="cl"/><path d="M45.75 121.02L45.75 114.95L47.52 106.92L51.64 102.22L61.65 98.70L73.43 97.52L82.26 98.70L88.15 101.05L94.04 104.96L98.75 108.88L100.04 110.05L105.23 110.44L106 126Z" fill="#f6f8f3" class="cl"/><path d="M51.64 121.02L51.05 114.95L54 110.84L61.65 106.92L70.48 105.36L79.32 104.96L88.15 106.14L94.04 110.05L98.75 114.75L100.04 116.71L105.23 117.10L106 126Z" fill="#dfecf1" class="cl"/><path d="M59.29 121.02L59.88 116.71L64.59 113.97L73.43 112.01L82.26 111.62L91.09 112.79L96.98 116.71L98.75 121.02Z" fill="#c1ddec" class="cl"/><path d="M70.48 121.02L73.43 118.67L82.26 117.49L88.15 118.27L91.68 121.02Z" fill="#9ac9e0" class="cl"/><path d="M-1.95 28.97L-0.18 28.97L2.18 25.84L3.65 28.97L4.53 27.41L5.71 19.58L6.30 10.96L8.06 9.59L9.83 11.75L11.60 15.66L13.36 25.02L17.49 35L23.37 44.98L29.85 55.01L31.62 59.94L31.91 64.95L23.37 70.51L19.25 74.93L16.90 81.47L15.72 84.96L13.36 94.94L10.42 104.92L8.06 110.84L6.30 115.14L4.24 103.79L2.18 103.40L-0.18 97.52L-1.95 97.52Z" fill="#960f26" class="cl"/><path d="M-1.95 54.81L-0.18 54.81L2.18 48.16L4.24 51.68L5.12 46.98L6.30 39.15L8.36 37.19L11.60 40.33L16.31 44.98L17.49 48.94L20.72 55.01L18.66 59.94L14.54 64.95L10.42 71.69L7.47 77.56L6.30 80.30L4.24 77.17L2.18 81.47L-0.18 76.77L-1.95 76.77Z" fill="#67001f" class="cl"/></svg>
<g transform="translate(525.5,730.0)">
<path d="M143.6 0V500.5" stroke-dashoffset="13.8" stroke="#f4f4f4" stroke-opacity=".6" stroke-width="2" stroke-dasharray="4.5 12.5" fill="none"/>
<rect x="0" y="0" width="287.3" height="500.5" fill="none" stroke="#262626" stroke-width="2.1"/>
<path d="M143.6 0v5.5M143.6 500.5v-5.5M0 333.7h5.5M287.3 333.7h-5.5M0 166.8h5.5M287.3 166.8h-5.5" stroke="#262626" stroke-width="1.6" fill="none"/>
</g>
<text class="tk xt" text-anchor="end" transform="translate(541.5,1267.5) rotate(-30)">145<tspan class="sup" dx="1.5" dy="-11.5">o</tspan><tspan dx="4.5" dy="11.5">E</tspan></text>
<text class="tk xt" text-anchor="end" transform="translate(689.8,1267.5) rotate(-30)">150<tspan class="sup" dx="1.5" dy="-11.5">o</tspan><tspan dx="4.5" dy="11.5">W</tspan></text>
<text class="tk xt" text-anchor="end" transform="translate(828.4,1267.5) rotate(-30)">85<tspan class="sup" dx="1.5" dy="-11.5">o</tspan><tspan dx="4.5" dy="11.5">W</tspan></text>
<svg x="918" y="730" width="282" height="500" viewBox="0.000 0.000 100.142 119.880" preserveAspectRatio="none" overflow="hidden"><rect x="-1" y="-1" width="102" height="122" fill="#bb2a34"/><path d="M11.31 -0.78L11.60 5.01L12.47 14.99L12.76 25.02L16.82 35L24.35 44.98L29.57 55.01L28.41 59.94L28.41 64.95L22.04 69.73L17.40 74.93L13.34 83.43L10.44 91.26L8.99 94.94L9.28 104.92L10.73 114.95L11.31 121.02L-6 126L-6 -6Z" fill="#960f26" class="cl"/><path d="M-1.74 76.77L0 76.77L2.32 81.08L4.35 82.65L5.51 87.35L5.22 94.94L4.35 101.44L2.32 99.87L0 108.88L-1.74 108.88Z" fill="#bb2a34" class="cl"/><path d="M-1.74 20.36L0 20.36L2.32 18.40L3.77 29.75L5.80 27.41L8.70 32.50L11.60 37.58L16.82 44.98L17.98 50.90L20.59 55.01L17.98 59.94L14.50 63.86L11.60 66.99L8.70 68.75L6.38 67.77L5.80 64.95L5.22 59.94L4.35 55.59L2.32 57.16L0 50.11L-1.74 50.11Z" fill="#67001f" class="cl"/><path d="M17.40 -0.78L17.98 5.01L20.30 14.99L20.01 25.02L23.19 35L31.31 44.98L38.36 54.91L38.71 64.75L32.67 69.55L29.12 72.42L26.09 74.93L22.04 81.47L17.98 91.26L16.24 94.94L15.66 104.92L16.82 114.95L17.40 121.02L106 126L106 -6Z" fill="#d25749" class="cl"/><path d="M22.90 -0.78L23.77 5.01L26.67 14.99L26.67 25.02L30.15 35L33.03 38.36L39.78 45.56L47.59 55.15L50.08 64.75L43.33 70.27L37.29 75.04L33.63 76.77L27.83 84.96L23.19 94.94L20.88 104.92L21.46 114.95L22.62 121.02L106 126L106 -6Z" fill="#e58268" class="cl"/><path d="M28.41 -0.78L29.28 5.01L32.76 14.99L33.05 25.02L36.82 35L40.49 38.36L49.02 46.76L57.54 55.15L61.10 61.15L64.29 64.75L59.32 69.55L52.21 75.04L40.59 80.30L34.21 87.35L29.57 94.94L25.51 104.92L26.09 114.95L27.25 121.02L106 126L106 -6Z" fill="#f5ac8b" class="cl"/><path d="M33.63 -0.78L34.79 5.01L37.69 14.99L38.85 25.02L43.49 35L47.95 38.36L57.54 46.76L66.42 55.15L71.75 59.95L78.86 64.75L79.93 69.55L81.70 75.04L69.58 75.60L57.99 77.56L49.29 80.69L40.59 87.35L35.95 94.94L31.31 104.92L30.15 114.95L31.89 121.02L106 126L106 -6Z" fill="#fbceb6" class="cl"/><path d="M86.98 75.01L90.46 74.74L93.94 75.01L90.46 75.29Z" fill="#f5ac8b" class="cl"/><path d="M38.85 -0.78L40.01 5.01L42.91 14.99L44.65 25.02L49.87 35L55.06 38.36L64.65 45.56L75.31 55.15L82.41 61.15L89.52 63.55L94.14 64.75L96.62 59.95L98.05 53.95L100.14 53.23L103.73 52.99L106 -6Z" fill="#fae6d8" class="cl"/><path d="M44.07 -0.78L45.23 5.01L48.13 14.99L50.45 25.02L55.09 35L61.10 38.36L68.20 44.36L77.08 50.36L84.19 55.87L89.52 58.03L93.07 55.15L96.62 45.56L98.40 43.64L100.14 43.16L103.73 42.92L106 -6Z" fill="#f6f8f3" class="cl"/><path d="M50.45 -0.78L51.32 5.01L52.77 14.99L55.67 25.02L62.63 35L69.98 38.36L75.31 43.16L82.41 47.96L88.10 49.64L92.36 46.76L94.85 38.36L96.26 35L97.42 25.02L98 18.40L100.14 17.62L103.80 17.23L106 -6Z" fill="#dfecf1" class="cl"/><path d="M59.15 -0.78L59.73 5.01L60.31 14.99L63.21 25.02L69.58 31.32L78.28 36.41L84.08 38.17L89.30 35.24L93.94 25.02L95.68 14.99L97.42 5.01L98 -0.78Z" fill="#c1ddec" class="cl"/><path d="M67.85 -0.78L68.13 5.01L69 14.99L73.06 21.53L78.28 25.45L82.92 27.21L88.14 23.49L91.04 14.99L92.78 5.01L92.78 -0.78Z" fill="#9ac9e0" class="cl"/><path d="M76.54 5.09L80.02 1.57L85.82 0.59L88.14 3.13L86.98 11.75L84.66 15.66L81.18 16.64L77.12 14.88L76.54 9.79Z" fill="#6aacd0" class="cl"/><path d="M35.95 121.02L35.95 114.95L37.11 104.92L41.75 94.94L50.45 87.35L60.89 83.43L72.48 81.08L84.08 80.30L90.46 81.86L95.68 85L100.14 86.17L103.80 86.56L106 126Z" fill="#fae6d8" class="cl"/><path d="M41.75 121.02L41.75 114.95L42.91 104.92L48.13 94.94L57.99 89.30L69.58 86.56L81.18 85.78L86.98 86.56L92.78 89.69L98.58 92.44L100.14 92.83L103.80 93.22L106 126Z" fill="#f6f8f3" class="cl"/><path d="M49.29 121.02L49.29 114.95L49.87 104.92L55.09 97.13L63.79 93.61L75.38 91.65L84.08 91.26L89.88 92.44L95.68 95.96L100.14 99.09L103.80 99.48L106 126Z" fill="#dfecf1" class="cl"/><path d="M57.99 121.02L57.99 114.95L59.73 104.92L66.69 101.05L75.38 98.31L82.92 96.74L89.88 98.70L95.68 103.01L98.58 110.84L100.14 114.75L103.80 115.14L106 126Z" fill="#c1ddec" class="cl"/><path d="M66.69 121.02L67.27 114.95L69.58 110.05L75.38 108.10L81.18 104.96L84.08 103.98L88.14 106.14L91.04 110.84L92.78 116.71L93.36 121.02Z" fill="#9ac9e0" class="cl"/></svg>
<g transform="translate(913.0,730.0)">
<path d="M145.8 0V500.5" stroke-dashoffset="13.8" stroke="#f4f4f4" stroke-opacity=".6" stroke-width="2" stroke-dasharray="4.5 12.5" fill="none"/>
<rect x="0" y="0" width="291.6" height="500.5" fill="none" stroke="#262626" stroke-width="2.1"/>
<path d="M145.8 0v5.5M145.8 500.5v-5.5M0 333.7h5.5M291.6 333.7h-5.5M0 166.8h5.5M291.6 166.8h-5.5" stroke="#262626" stroke-width="1.6" fill="none"/>
</g>
<text class="tk xt" text-anchor="end" transform="translate(929.0,1267.5) rotate(-30)">145<tspan class="sup" dx="1.5" dy="-11.5">o</tspan><tspan dx="4.5" dy="11.5">E</tspan></text>
<text class="tk xt" text-anchor="end" transform="translate(1079.4,1267.5) rotate(-30)">150<tspan class="sup" dx="1.5" dy="-11.5">o</tspan><tspan dx="4.5" dy="11.5">W</tspan></text>
<text class="tk xt" text-anchor="end" transform="translate(1220.2,1267.5) rotate(-30)">85<tspan class="sup" dx="1.5" dy="-11.5">o</tspan><tspan dx="4.5" dy="11.5">W</tspan></text>
<svg x="1310" y="730" width="282" height="500" viewBox="-0.035 0.000 100.106 119.880" preserveAspectRatio="none" overflow="hidden"><rect x="-1" y="-1" width="102" height="122" fill="#bb2a34"/><path d="M21.12 -0.78L22.28 5.01L25.47 14.99L23.44 25.02L25.47 35L30.11 44.98L34.16 55.01L33.01 59.94L31.85 64.95L27.79 71.69L24.31 74.93L20.25 84.96L17.35 94.94L17.35 104.92L19.67 114.95L20.83 121.02L106 126L106 -6Z" fill="#d25749" class="cl"/><path d="M28.95 -0.78L30.11 5.01L33.01 14.99L31.56 25.02L33.30 35L38.22 44.98L42.86 55.01L41.70 59.94L41.70 64.95L37.06 71.69L34.16 74.93L28.37 84.96L25.47 94.94L24.31 104.92L27.21 114.95L28.95 121.02L106 126L106 -6Z" fill="#e58268" class="cl"/><path d="M36.48 -0.78L37.64 5.01L40.25 14.99L39.09 25.02L40.54 35L45.76 44.98L49.82 55.01L49.24 59.94L50.40 64.95L47.50 71.69L43.44 74.93L37.06 84.96L34.16 94.94L31.56 104.92L34.16 114.95L36.48 121.02L106 126L106 -6Z" fill="#f5ac8b" class="cl"/><path d="M44.31 -0.78L45.18 5.01L47.21 14.99L46.05 25.02L47.50 35L52.13 44.98L56.48 55.01L56.77 59.94L57.93 64.95L55.61 71.69L52.13 74.93L45.18 84.96L41.70 94.94L40.54 104.92L42.28 114.95L44.60 121.02L106 126L106 -6Z" fill="#fbceb6" class="cl"/><path d="M52.13 -0.78L52.71 5.01L53.87 14.99L53.29 25.02L54.45 35L59.09 44.98L63.15 55.01L63.73 59.94L65.47 64.95L64.31 71.69L61.41 74.93L53.29 84.96L49.82 94.94L50.40 104.92L50.98 114.95L52.71 121.02L106 126L106 -6Z" fill="#fae6d8" class="cl"/><path d="M61.41 -0.78L60.83 5.01L60.83 14.99L60.25 25.02L60.83 35L64.89 44.98L68.94 55.01L70.68 59.94L73.58 64.95L72.42 71.69L70.68 74.93L61.41 84.96L57.93 94.94L58.51 104.92L60.83 114.95L61.99 121.02L106 126L106 -6Z" fill="#f6f8f3" class="cl"/><path d="M95.03 -0.78L96.19 5.01L97.93 14.99L100.07 17.62L103.72 17.62L106 -6Z" fill="#fae6d8" class="cl"/><path d="M97.93 121.02L98.51 110.84L100.07 106.92L103.72 106.92L106 126Z" fill="#fae6d8" class="cl"/><path d="M71.26 -0.78L69.52 5.01L67.21 14.99L66.63 25.02L67.21 35L70.68 44.98L75.32 55.01L78.22 59.94L81.12 64.95L83.44 73.64L81.12 77.56L72.42 83.43L68.94 87.35L64.89 94.94L68.37 104.92L71.84 110.84L75.32 114.95L72.42 121.02L91.55 121.02L90.39 114.95L92.71 106.92L95.61 99.09L96.77 91.26L97.93 85.78L100.07 85L103.72 85L103.72 30.54L100.07 30.54L98.51 29.36L97.93 21.92L95.03 14.99L92.71 5.01L91.55 -0.78Z" fill="#dfecf1" class="cl"/><path d="M81.12 5.09L76.48 9.79L74.16 14.99L73.58 25.02L74.74 35L77.06 44.98L81.12 55.01L85.76 59.94L88.65 64.95L92.71 68.94L96.19 70.90L97.93 70.12L100.07 71.29L103.72 71.29L103.72 39.93L100.07 39.93L97.93 39.15L96.19 31.32L92.71 25.02L89.23 14.99L85.76 7.05Z" fill="#c1ddec" class="cl"/><path d="M84.02 23.88L82.86 27.41L83.15 35L83.44 44.98L86.91 50.90L90.39 55.01L92.71 57.55L95.03 55.59L95.03 48.94L93.29 43.07L91.55 35L88.07 29.75L85.76 25.06Z" fill="#9ac9e0" class="cl"/><path d="M71.84 94.94L75.32 90.48L81.12 88.72L85.76 89.69L89.81 94.94L88.65 99.09L87.49 104.92L85.18 106.33L81.70 105.36L77.06 101.05Z" fill="#c1ddec" class="cl"/><path d="M91.55 84.61L93.87 83.82L94.45 85.78L93.29 87.74L92.13 86.17Z" fill="#f6f8f3" class="cl"/><path d="M11.85 -0.78L12.43 5.01L14.75 14.99L13.59 25.02L16.20 35L20.83 44.98L21.70 55.01L20.25 59.94L18.51 64.95L15.04 68.94L11.85 72.86L8.66 69.73L7.50 64.95L6.92 59.94L7.50 55.01L6.34 44.98L4.89 39.15L4.02 35.63L2.28 37.98L-0.04 35.63L-1.77 35.63L-6 -6Z" fill="#960f26" class="cl"/><path d="M-1.77 101.05L-0.04 101.05L2.28 96.74L4.02 104.96L5.76 95.96L7.50 103.01L9.82 110.84L11.56 116.71L11.85 121.02L-6 126Z" fill="#960f26" class="cl"/></svg>
<g transform="translate(1305.1,730.0)">
<path d="M145.9 0V500.5" stroke-dashoffset="13.8" stroke="#f4f4f4" stroke-opacity=".6" stroke-width="2" stroke-dasharray="4.5 12.5" fill="none"/>
<rect x="0" y="0" width="291.7" height="500.5" fill="none" stroke="#262626" stroke-width="2.1"/>
<path d="M145.9 0v5.5M145.9 500.5v-5.5M0 333.7h5.5M291.7 333.7h-5.5M0 166.8h5.5M291.7 166.8h-5.5" stroke="#262626" stroke-width="1.6" fill="none"/>
</g>
<text class="tk xt" text-anchor="end" transform="translate(1321.1,1267.5) rotate(-30)">145<tspan class="sup" dx="1.5" dy="-11.5">o</tspan><tspan dx="4.5" dy="11.5">E</tspan></text>
<text class="tk xt" text-anchor="end" transform="translate(1471.5,1267.5) rotate(-30)">150<tspan class="sup" dx="1.5" dy="-11.5">o</tspan><tspan dx="4.5" dy="11.5">W</tspan></text>
<text class="tk xt" text-anchor="end" transform="translate(1612.4,1267.5) rotate(-30)">85<tspan class="sup" dx="1.5" dy="-11.5">o</tspan><tspan dx="4.5" dy="11.5">W</tspan></text>
<svg x="1701" y="730" width="282" height="500" viewBox="-0.106 0.000 100.071 119.880" preserveAspectRatio="none" overflow="hidden"><rect x="-1" y="-1" width="102" height="122" fill="#bb2a34"/><path d="M19.02 -0.78L21.33 5.01L23.07 14.99L22.49 25.02L25.39 35L31.18 44.98L37.56 55.01L38.14 59.94L37.56 64.95L31.76 68.94L25.97 74.93L21.33 81.47L19.02 87.35L16.12 94.94L14.38 104.92L16.12 114.95L17.28 121.02L106 126L106 -6Z" fill="#d25749" class="cl"/><path d="M26.55 -0.78L28.29 5.01L30.32 14.99L28.87 25.02L31.47 35L38.14 44.98L45.67 55.01L46.83 59.94L49.73 64.95L47.41 69.73L41.61 74.93L34.66 78.73L30.03 84.96L25.39 91.26L23.65 94.94L21.91 104.92L23.07 114.95L24.81 121.02L106 126L106 -6Z" fill="#e58268" class="cl"/><path d="M32.34 -0.78L34.66 5.01L36.69 14.99L35.24 25.02L37.56 35L43.93 44.98L52.04 55.01L54.94 59.94L59.58 64.95L57.84 74.93L49.15 79.52L41.61 83.43L37.56 87.35L33.50 94.94L29.45 104.92L30.60 114.95L32.34 121.02L106 126L106 -6Z" fill="#f5ac8b" class="cl"/><path d="M38.72 -0.78L41.04 5.01L42.77 14.99L41.32 25.02L43.35 35L49.73 44.98L57.84 55.01L62.48 59.94L68.85 64.95L71.17 71.69L75.22 74.93L68.27 76.38L60.74 80.30L52.04 84.96L45.09 91.26L40.46 94.94L36.98 104.92L37.56 114.95L39.30 121.02L106 126L106 -6Z" fill="#fbceb6" class="cl"/><path d="M46.25 -0.78L47.99 5.01L48.57 14.99L47.12 25.02L49.15 35L54.94 44.98L63.63 55.01L68.27 59.94L72.33 63.86L81.02 69.73L90.29 73.25L96.08 75.60L99.97 72.86L103.62 72.47L106 -6Z" fill="#fae6d8" class="cl"/><path d="M54.36 -0.78L54.36 5.01L53.78 14.99L52.04 25.02L54.36 35L60.16 44.98L68.85 55.01L74.64 59.94L81.02 63.86L90.29 67.77L96.66 69.34L99.97 66.20L103.62 65.81L106 -6Z" fill="#f6f8f3" class="cl"/><path d="M64.21 -0.78L63.05 5.01L60.16 14.99L58.42 25.02L60.74 35L65.95 44.98L74.64 55.01L82.18 59.94L90.29 62.68L96.08 63.46L99.97 61.11L103.62 60.72L103.62 5.87L99.97 5.87L98.40 5.09L97.82 5.01L96.08 -0.78Z" fill="#dfecf1" class="cl"/><path d="M76.96 -0.78L72.33 5.01L66.53 14.99L63.63 25.02L65.95 35L71.17 44.98L81.02 55.01L90.29 57.94L97.24 55.01L98.40 53.25L99.97 52.85L103.62 52.85L103.62 15.66L99.97 15.66L98.40 21.92L97.82 14.99L94.93 5.01L92.03 -0.78Z" fill="#c1ddec" class="cl"/><path d="M85.65 5.87L80.44 7.44L74.64 14.99L70.01 25.02L72.91 35L77.54 44.98L83.92 49.33L90.29 51.29L93.77 48.94L96.08 44.98L95.50 35L94.35 25.02L92.03 14.99L89.71 7.83Z" fill="#9ac9e0" class="cl"/><path d="M84.49 14.09L81.60 15.27L79.28 25.02L81.60 28.19L85.07 30.93L87.97 29.75L89.71 25.02L87.97 14.99Z" fill="#6aacd0" class="cl"/><path d="M45.67 121.02L45.67 114.95L46.25 104.92L49.73 94.94L57.84 87.35L66.53 83.43L75.22 81.08L82.76 80.30L87.97 81.86L91.45 86.56L95.50 91.26L98.40 95.18L99.97 99.09L103.62 99.48L106 126Z" fill="#fae6d8" class="cl"/><path d="M54.36 121.02L54.94 114.95L56.68 104.92L60.74 94.94L69.43 89.69L78.12 87.74L83.92 88.13L88.55 91.26L92.61 97.13L96.08 104.92L98.40 114.95L99.97 118.67L103.62 119.06L106 126Z" fill="#f6f8f3" class="cl"/><path d="M66.53 121.02L67.69 114.95L69.43 104.92L72.91 94.94L76.96 94L82.76 93.61L86.23 95.96L89.13 101.05L91.45 104.92L93.77 114.95L94.93 121.02Z" fill="#dfecf1" class="cl"/><path d="M78.12 121.02L81.02 117.88L86.81 116.32L89.71 117.88L91.45 121.02Z" fill="#c1ddec" class="cl"/><path d="M6.27 0.78L4.53 4.31L4.24 19.58L4.82 27.41L5.98 35L6.27 44.98L5.69 55.01L5.11 59.94L4.53 64.95L4.82 74.93L6.27 84.61L10.32 77.56L14.96 71.69L19.60 64.95L24.81 59.94L27.71 55.01L24.23 44.98L19.02 35L14.38 29.36L12.64 23.49L10.32 11.75L8.59 3.92Z" fill="#960f26" class="cl"/><path d="M2.79 -0.78L3.95 5.01L3.66 19.58L2.21 26.23L-0.11 23.10L-1.84 23.10L-6 -6Z" fill="#960f26" class="cl"/><path d="M2.33 63.86L3.08 66.99L2.79 71.69L2.10 72.86L1.63 67.77Z" fill="#bb2a34" class="cl"/></svg>
<g transform="translate(1696.3,730.0)">
<path d="M145.9 0V500.5" stroke-dashoffset="13.8" stroke="#f4f4f4" stroke-opacity=".6" stroke-width="2" stroke-dasharray="4.5 12.5" fill="none"/>
<rect x="0" y="0" width="291.8" height="500.5" fill="none" stroke="#262626" stroke-width="2.1"/>
<path d="M145.9 0v5.5M145.9 500.5v-5.5M0 333.7h5.5M291.8 333.7h-5.5M0 166.8h5.5M291.8 166.8h-5.5" stroke="#262626" stroke-width="1.6" fill="none"/>
</g>
<text class="tk xt" text-anchor="end" transform="translate(1712.3,1267.5) rotate(-30)">145<tspan class="sup" dx="1.5" dy="-11.5">o</tspan><tspan dx="4.5" dy="11.5">E</tspan></text>
<text class="tk xt" text-anchor="end" transform="translate(1862.8,1267.5) rotate(-30)">150<tspan class="sup" dx="1.5" dy="-11.5">o</tspan><tspan dx="4.5" dy="11.5">W</tspan></text>
<text class="tk xt" text-anchor="end" transform="translate(2003.7,1267.5) rotate(-30)">85<tspan class="sup" dx="1.5" dy="-11.5">o</tspan><tspan dx="4.5" dy="11.5">W</tspan></text>
<text class="ttl" text-anchor="middle" x="279.6" y="26.2">LOP = 90<tspan class="sup" dx="3" dy="-12">o</tspan></text>
<text class="ttl" text-anchor="middle" x="671.4" y="26.2">LOP = 180<tspan class="sup" dx="3" dy="-12">o</tspan></text>
<text class="ttl" text-anchor="middle" x="1061.0" y="26.2">LOP = 270<tspan class="sup" dx="3" dy="-12">o</tspan></text>
<text class="ttl" text-anchor="middle" x="1453.1" y="26.2">LOP = 0<tspan class="sup" dx="3" dy="-12">o</tspan></text>
<text class="ttl" text-anchor="middle" x="1841.0" y="26.2">e = 0</text>
<text class="tk" text-anchor="end" x="127.5" y="549.3">0</text>
<text class="tk" text-anchor="end" x="127.5" y="384.1">4</text>
<text class="tk" text-anchor="end" x="127.5" y="218.9">8</text>
<text class="tk" text-anchor="end" x="127.5" y="53.7">12</text>
<text class="yl" text-anchor="middle" transform="translate(82,291.9) rotate(-90)">month</text>
<text class="rl" text-anchor="middle" transform="translate(24.5,292.9) rotate(-90)">iCESM 1.2</text>
<text class="tk" text-anchor="end" x="127.5" y="1241.1">0</text>
<text class="tk" text-anchor="end" x="127.5" y="1074.3">4</text>
<text class="tk" text-anchor="end" x="127.5" y="907.4">8</text>
<text class="tk" text-anchor="end" x="127.5" y="740.6">12</text>
<text class="yl" text-anchor="middle" transform="translate(82,981.2) rotate(-90)">month</text>
<text class="rl" text-anchor="middle" transform="translate(24.5,977.5) rotate(-90)">CESM LOP</text>
<rect x="541.8" y="1413.3" width="960.2" height="29.700000000000045" fill="url(#cb)" stroke="#262626" stroke-width="1.6"/>
<text class="tk cbt" text-anchor="middle" x="541.8" y="1481.6">22</text>
<path d="M661.8 1443v-10.5" stroke="#262626" stroke-width="1.4"/>
<text class="tk cbt" text-anchor="middle" x="661.8" y="1481.6">23</text>
<path d="M781.8 1443v-10.5" stroke="#262626" stroke-width="1.4"/>
<text class="tk cbt" text-anchor="middle" x="781.8" y="1481.6">24</text>
<path d="M901.9 1443v-10.5" stroke="#262626" stroke-width="1.4"/>
<text class="tk cbt" text-anchor="middle" x="901.9" y="1481.6">25</text>
<path d="M1021.9 1443v-10.5" stroke="#262626" stroke-width="1.4"/>
<text class="tk cbt" text-anchor="middle" x="1021.9" y="1481.6">26</text>
<path d="M1141.9 1443v-10.5" stroke="#262626" stroke-width="1.4"/>
<text class="tk cbt" text-anchor="middle" x="1141.9" y="1481.6">27</text>
<path d="M1262.0 1443v-10.5" stroke="#262626" stroke-width="1.4"/>
<text class="tk cbt" text-anchor="middle" x="1262.0" y="1481.6">28</text>
<path d="M1382.0 1443v-10.5" stroke="#262626" stroke-width="1.4"/>
<text class="tk cbt" text-anchor="middle" x="1382.0" y="1481.6">29</text>
<text class="tk cbt" text-anchor="middle" x="1502.0" y="1481.6">30</text>
<text class="yl cbl" text-anchor="middle" x="1020.5" y="1529.6"><tspan class="sup" dy="-12">o</tspan><tspan dx="2" dy="12">C</tspan></text>
</svg></body></html>
